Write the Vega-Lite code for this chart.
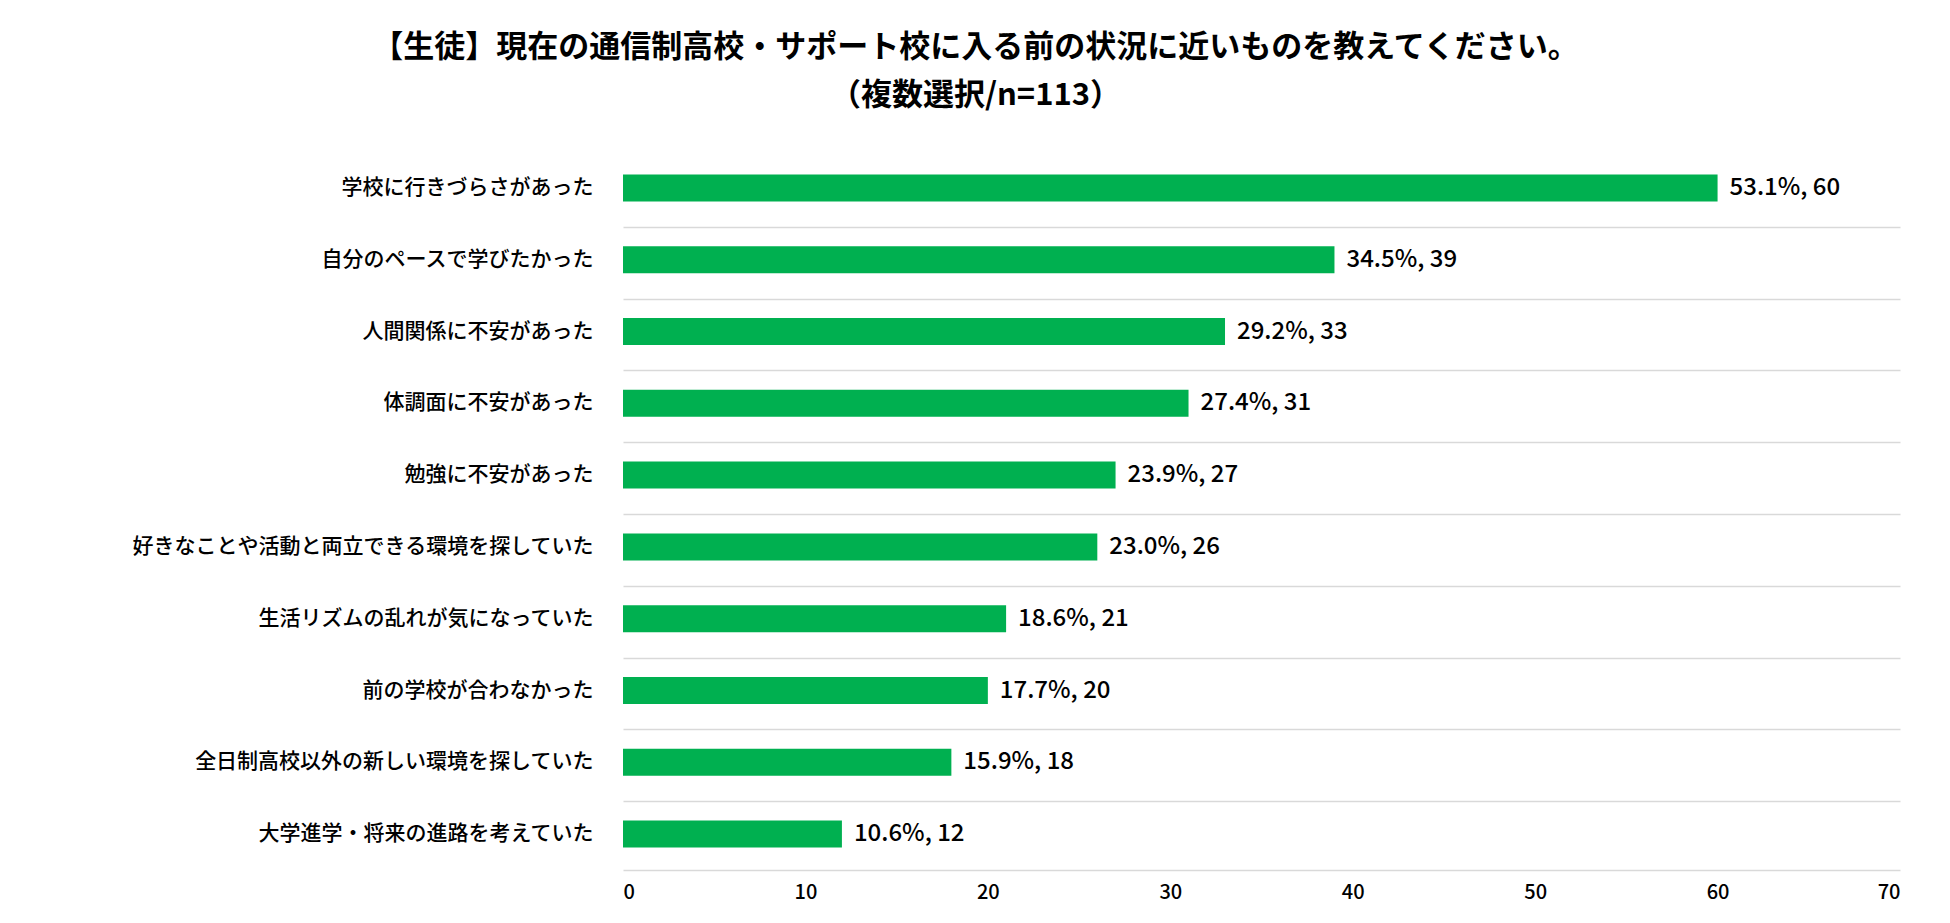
{
  "$schema": "https://vega.github.io/schema/vega-lite/v6.json",
  "autosize": {"type": "none"},
  "width": 1277,
  "height": 718,
  "padding": {"left": 623, "top": 152, "right": 50, "bottom": 53},
  "background": "#ffffff",
  "config": {
    "view": {"stroke": null},
    "font": "Noto Sans CJK JP"
  },
  "title": {
    "text": ["【生徒】現在の通信制高校・サポート校に入る前の状況に近いものを教えてください。", "（複数選択/n=113）"],
    "fontSize": 31,
    "fontWeight": "bold",
    "color": "#000000",
    "anchor": "middle",
    "dx": -286,
    "offset": 40,
    "lineHeight": 48
  },
  "data": {
    "values": [
      {"item": "学校に行きづらさがあった", "n": 60, "label": "53.1%, 60"},
      {"item": "自分のペースで学びたかった", "n": 39, "label": "34.5%, 39"},
      {"item": "人間関係に不安があった", "n": 33, "label": "29.2%, 33"},
      {"item": "体調面に不安があった", "n": 31, "label": "27.4%, 31"},
      {"item": "勉強に不安があった", "n": 27, "label": "23.9%, 27"},
      {"item": "好きなことや活動と両立できる環境を探していた", "n": 26, "label": "23.0%, 26"},
      {"item": "生活リズムの乱れが気になっていた", "n": 21, "label": "18.6%, 21"},
      {"item": "前の学校が合わなかった", "n": 20, "label": "17.7%, 20"},
      {"item": "全日制高校以外の新しい環境を探していた", "n": 18, "label": "15.9%, 18"},
      {"item": "大学進学・将来の進路を考えていた", "n": 12, "label": "10.6%, 12"}
    ]
  },
  "encoding": {
    "y": {
      "field": "item",
      "type": "nominal",
      "sort": null,
      "title": null,
      "axis": {
        "bandPosition": 0,
        "grid": true,
        "gridColor": "#d9d9d9",
        "gridWidth": 1.5,
        "gridOpacity": {"condition": {"test": "datum.value === '学校に行きづらさがあった'", "value": 0}, "value": 1},
        "domain": false,
        "ticks": false,
        "labelFontSize": 21,
        "labelFontWeight": 500,
        "labelColor": "#000000",
        "labelPadding": 30,
        "labelLimit": 700
      }
    },
    "x": {
      "field": "n",
      "type": "quantitative",
      "scale": {"domain": [0, 70]},
      "title": null,
      "axis": {
        "values": [0, 10, 20, 30, 40, 50, 60, 70],
        "grid": false,
        "domainColor": "#d9d9d9",
        "domainWidth": 1.5,
        "ticks": false,
        "labelFontSize": 20,
        "labelFontWeight": 500,
        "labelColor": "#000000",
        "labelPadding": 12
      }
    }
  },
  "layer": [
    {"mark": {"type": "bar", "color": "#00B050", "height": 27}},
    {
      "mark": {"type": "text", "align": "left", "dx": 12, "fontSize": 24, "fontWeight": 500, "color": "#000000"},
      "encoding": {"text": {"field": "label"}}
    }
  ]
}
